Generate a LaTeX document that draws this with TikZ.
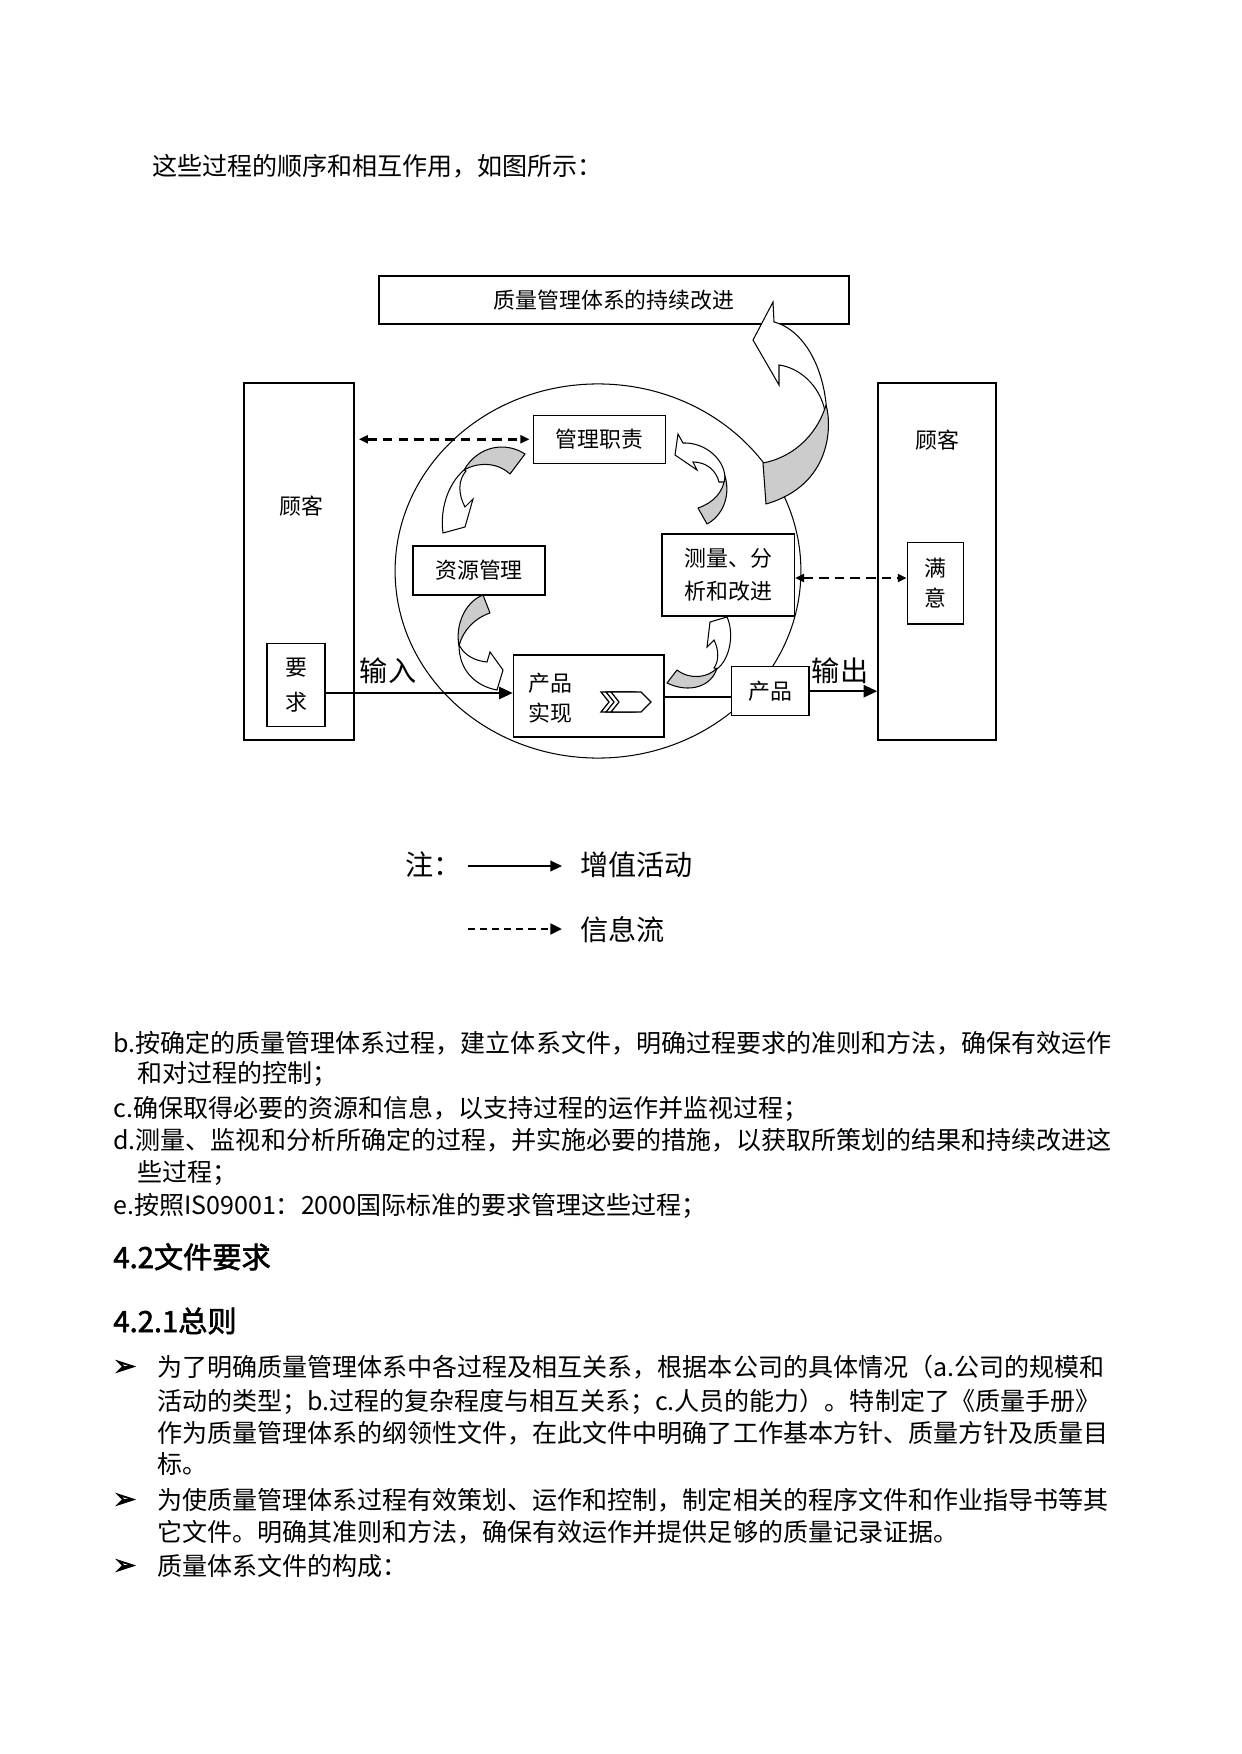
\documentclass[tikz,border=0pt]{standalone}
\usepackage{fontspec}
\setmainfont{Noto Sans CJK SC}
\newfontfamily\symfont{DejaVu Sans}[UprightFeatures={FakeBold=3}]
\newfontfamily\headfont{Noto Sans CJK SC}[FakeBold=2]
\usetikzlibrary{arrows.meta}
\begin{document}
\begin{tikzpicture}[x=0.4795pt, y=-0.4795pt,
  box/.style={draw, line width=0.7pt, fill=white, inner sep=0pt, align=center, font=\fontsize{10.5}{15}\selectfont},
  lbl/.style={inner sep=0pt, align=center, font=\fontsize{10.5}{15}\selectfont},
  body/.style={anchor=base west, inner sep=0pt, font=\fontsize{12}{14}\selectfont},
  headtxt/.style={anchor=base west, inner sep=0pt, font=\headfont\fontsize{14}{16}\selectfont},
  big/.style={inner sep=0pt, font=\fontsize{13.5}{16}\selectfont},
  bul/.style={anchor=base west, inner sep=0pt, font=\symfont\fontsize{13}{14}\selectfont},
  flow/.style={line width=1pt, -{Triangle[length=6.5pt,width=5.8pt]}},
  info/.style={line width=1.2pt, dash pattern=on 4.5pt off 3pt, {Triangle[length=4.3pt,width=3.8pt]}-{Triangle[length=4.3pt,width=3.8pt]}},
  backpart/.style={draw, line width=0.5pt, fill=gray!40, line join=round},
  frontpart/.style={draw, line width=0.5pt, fill=white, line join=miter},
  chev/.style={draw, line width=0.6pt, fill=white, line join=miter}
]
\fill[white] (0,0) rectangle (1241,1754);
\useasboundingbox (0,0) rectangle (1241,1754);

% intro line
\node[body] (intro) at (152,175.5) {这些过程的顺序和相互作用，如图所示：};

% process circle
\draw[line width=0.5pt] (598,571) ellipse [x radius=97.3pt, y radius=89.7pt];

% boxes
\node[box, minimum width=225.4pt, minimum height=23.2pt] (impr) at (614,300) {质量管理体系的持续改进};
\node[box, minimum width=52.7pt, minimum height=171.2pt] (cusL) at (299,561.5) {};
\node[lbl] (cusLt) at (301,506) {顾客};
\node[box, minimum width=56.6pt, minimum height=171.2pt] (cusR) at (937,561.5) {};
\node[lbl] (cusRt) at (937,440) {顾客};
\node[box, minimum width=27.8pt, minimum height=39.8pt, font=\fontsize{10.5}{16.8}\selectfont] (req) at (296,685) {要\\求};
\node[box, minimum width=63.3pt, minimum height=23pt] (mgmt) at (599.7,439.3) {管理职责};
\node[box, minimum width=63.3pt, minimum height=23.5pt] (res) at (479,570.5) {资源管理};
\node[box, minimum width=63.5pt, minimum height=39.2pt, font=\fontsize{10.5}{16}\selectfont] (meas) at (728.2,574.9) {测量、分\\析和改进};
\node[box, minimum width=72.2pt, minimum height=39.3pt] (real) at (588.7,696) {};
\node[lbl, font=\fontsize{10.5}{14.4}\selectfont] (realt) at (550,698) {产品\\实现};
\node[box, minimum width=37.2pt, minimum height=23.5pt] (prod) at (770.2,691.2) {产品};
\node[box, minimum width=26.9pt, minimum height=39pt, font=\fontsize{10.5}{14.4}\selectfont] (sat) at (935.5,583.3) {满\\意};

% chevron symbol in product realisation
\foreach \dx in {-10,-5,0}
  \draw[chev, shift={(\dx,0)}] (611,692) -- (641,692) -- (651,702) -- (641,712) -- (611,712) -- (619,702) -- cycle;

% labels
\node[big, anchor=base] (inL) at (388,681.7) {输入};
\node[big, anchor=base] (outL) at (840,681.7) {输出};

% connectors
\coordinate (yin) at (0,693);
\draw[flow] (req.east |- yin) -- (real.west |- yin);
\coordinate (ylink) at (0,697);
\draw[line width=1pt] (real.east |- ylink) -- (prod.west |- ylink);
\draw[flow] (prod.east) -- (cusR.west |- prod.east);
\draw[info, shorten <=2pt, shorten >=1.7pt] (cusL.east |- mgmt.west) -- (mgmt.west);
\coordinate (yd) at (0,578);
\draw[info] (meas.east |- yd) -- (sat.west |- yd);

% curved arrows
% A: management -> resources
\draw[frontpart] (464,470) .. controls (447,485) and (440,510) .. (443,533) -- (465,527) -- (473,499) -- (465,507) .. controls (458,494) and (458,480) .. (466,471) -- cycle;
\draw[backpart] (525,454) .. controls (505,441) and (478,446) .. (464,470) .. controls (478,462) and (497,462) .. (510,474) -- cycle;
% B: measurement -> management
\draw[frontpart] (725,482) .. controls (727,460) and (705,442) .. (683,443) -- (678,434) -- (675,455) -- (697,470) -- (693,462) .. controls (706,462) and (716,470) .. (719,482) -- cycle;
\draw[backpart] (698,508) -- (707,524) .. controls (722,516) and (731,497) .. (725,476) .. controls (724,492) and (713,503) .. (698,508) -- cycle;
% C: resources -> realisation
\draw[frontpart] (459,645) .. controls (459,670) and (475,686) .. (497,690) -- (503,670) -- (490,652) -- (487,662) .. controls (475,661) and (465,655) .. (461,648) -- cycle;
\draw[backpart] (483,595) .. controls (465,602) and (455,625) .. (459,646) .. controls (463,630) and (475,618) .. (490,613) -- cycle;
% D: realisation -> measurement
\draw[frontpart] (717,669) .. controls (731,658) and (734,632) .. (727,617) -- (710,622) -- (707,647) -- (714,640) .. controls (719,650) and (719,661) .. (714,668) -- cycle;
\draw[backpart] (667,683) -- (677,670) .. controls (690,680) and (708,678) .. (717,668) .. controls (712,686) and (690,694) .. (667,683) -- cycle;
% E: big arrow to continual improvement
\draw[frontpart] (827,425) .. controls (828,372) and (805,330) .. (774,322) -- (773,302) -- (753,340) -- (779,385) -- (779,365) .. controls (800,368) and (818,385) .. (824,407) -- cycle;
\draw[backpart] (763,463) .. controls (790,458) and (816,438) .. (826,405) .. controls (832,425) and (832,485) .. (766,504) -- cycle;

% legend
\node[big, anchor=base west] (note) at (405,875.7) {注：};
\coordinate (l1a) at (468,866);
\coordinate (l1b) at (562,866);
\draw[line width=1pt, -{Triangle[length=5.6pt,width=5.1pt]}] (l1a) -- (l1b);
\node[big, anchor=base west] (leg1) at (580,875.7) {增值活动};
\coordinate (l2a) at (468,929);
\coordinate (l2b) at (562,929);
\draw[line width=1.3pt, dash pattern=on 3.4pt off 2.4pt, -{Triangle[length=5.6pt,width=5.1pt]}] (l2a) -- (l2b);
\node[big, anchor=base west] (leg2) at (580,940.7) {信息流};

% body text
\node[body] (pb1) at (113,1052.5) {b.按确定的质量管理体系过程，建立体系文件，明确过程要求的准则和方法，确保有效运作};
\node[body] (pb2) at (137,1082.5) {和对过程的控制；};
\node[body] (pc) at (113,1117.5) {c.确保取得必要的资源和信息，以支持过程的运作并监视过程；};
\node[body] (pd1) at (113,1149.5) {d.测量、监视和分析所确定的过程，并实施必要的措施，以获取所策划的结果和持续改进这};
\node[body] (pd2) at (137,1181.5) {些过程；};
\node[body] (pe) at (113,1214.5) {e.按照IS09001：2000国际标准的要求管理这些过程；};
\node[headtxt] (h1) at (113,1268) {4.2文件要求};
\node[headtxt] (h2) at (113,1332) {4.2.1总则};
\node[bul] (m1) at (113,1375) {➢};
\node[body] (t1) at (157,1376.5) {为了明确质量管理体系中各过程及相互关系，根据本公司的具体情况（a.公司的规模和};
\node[body] (t2) at (157,1410.5) {活动的类型；b.过程的复杂程度与相互关系；c.人员的能力）。特制定了《质量手册》};
\node[body] (t3) at (157,1442.5) {作为质量管理体系的纲领性文件，在此文件中明确了工作基本方针、质量方针及质量目};
\node[body] (t4) at (157,1473.5) {标。};
\node[bul] (m2) at (113,1508) {➢};
\node[body] (t5) at (157,1509.5) {为使质量管理体系过程有效策划、运作和控制，制定相关的程序文件和作业指导书等其};
\node[body] (t6) at (157,1541.5) {它文件。明确其准则和方法，确保有效运作并提供足够的质量记录证据。};
\node[bul] (m3) at (113,1574) {➢};
\node[body] (t7) at (157,1575.5) {质量体系文件的构成：};
\end{tikzpicture}
\end{document}
